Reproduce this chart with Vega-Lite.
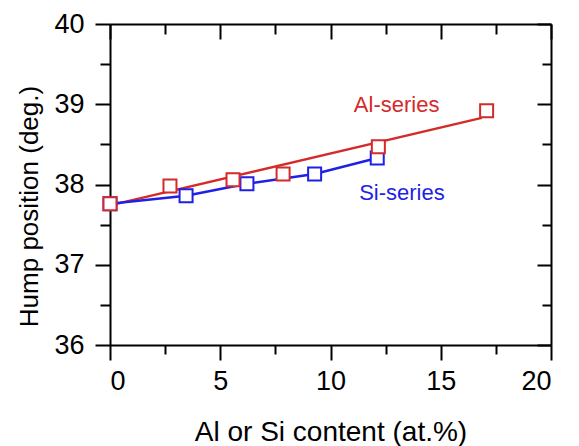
{
  "$schema": "https://vega.github.io/schema/vega-lite/v6.json",
  "width": 441,
  "height": 321,
  "autosize": {"type": "none"},
  "padding": {"left": 110, "top": 24, "right": 28, "bottom": 101},
  "background": "white",
  "config": {"view": {"stroke": null}},
  "datasets": {
    "pts": [
      {"series": "Si", "x": 0, "y": 37.76},
      {"series": "Si", "x": 3.45, "y": 37.86},
      {"series": "Si", "x": 6.21, "y": 38.01},
      {"series": "Si", "x": 9.28, "y": 38.13},
      {"series": "Si", "x": 12.12, "y": 38.33},
      {"series": "Al", "x": 0, "y": 37.76},
      {"series": "Al", "x": 2.72, "y": 37.98},
      {"series": "Al", "x": 5.58, "y": 38.06},
      {"series": "Al", "x": 7.85, "y": 38.13},
      {"series": "Al", "x": 12.17, "y": 38.47},
      {"series": "Al", "x": 17.08, "y": 38.92}
    ],
    "fit": [
      {"series": "Al", "x": 0, "y": 37.74},
      {"series": "Al", "x": 16.86, "y": 38.83}
    ],
    "labels": [
      {"label": "Al-series", "series": "Al", "x": 13.0, "y": 38.99},
      {"label": "Si-series", "series": "Si", "x": 13.24, "y": 37.89}
    ]
  },
  "resolve": {"axis": {"x": "independent", "y": "independent"}},
  "layer": [
    {
      "data": {"name": "fit"},
      "mark": {"type": "line", "color": "#d42a2a", "strokeWidth": 2.5},
      "encoding": {
        "x": {"field": "x", "type": "quantitative", "scale": {"domain": [0, 20], "nice": false},
          "axis": {"orient": "top", "values": [0, 2.5, 5, 7.5, 10, 12.5, 15, 17.5, 20], "labels": false, "title": null,
            "tickSize": {"condition": {"test": "datum.value % 5 === 0", "value": -15}, "value": -10},
            "domainColor": "black", "domainWidth": 2, "tickColor": "black", "tickWidth": 2, "grid": false}},
        "y": {"field": "y", "type": "quantitative", "scale": {"domain": [36, 40], "nice": false, "zero": false},
          "axis": {"orient": "right", "values": [36, 36.5, 37, 37.5, 38, 38.5, 39, 39.5, 40], "labels": false, "title": null,
            "tickSize": {"condition": {"test": "datum.value % 1 === 0", "value": -14}, "value": -9},
            "domainColor": "black", "domainWidth": 2, "tickColor": "black", "tickWidth": 2, "grid": false}}
      }
    },
    {
      "data": {"name": "pts"},
      "transform": [{"filter": "datum.series === 'Si'"}],
      "mark": {"type": "line", "color": "#1f1fe6", "strokeWidth": 2.5},
      "encoding": {
        "x": {"field": "x", "type": "quantitative", "axis": null},
        "y": {"field": "y", "type": "quantitative", "axis": null}
      }
    },
    {
      "data": {"name": "pts"},
      "mark": {"type": "point", "shape": "square", "filled": true, "fill": "white", "opacity": 1, "size": 169, "strokeWidth": 2},
      "encoding": {
        "x": {"field": "x", "type": "quantitative",
          "axis": {"orient": "bottom", "values": [0, 2.5, 5, 7.5, 10, 12.5, 15, 17.5, 20],
            "labelExpr": "datum.value % 5 === 0 ? format(datum.value, 'd') : ''",
            "tickSize": {"condition": {"test": "datum.value % 5 === 0", "value": 15}, "value": 9},
            "labelFont": "Liberation Sans", "labelFontSize": 27, "labelColor": "black", "labelPadding": 8,
            "title": "Al or Si content (at.%)", "titleFont": "Liberation Sans", "titleFontSize": 28,
            "titleFontWeight": "normal", "titleColor": "black", "titleBaseline": "alphabetic", "titleY": 95,
            "domainColor": "black", "domainWidth": 2, "tickColor": "black", "tickWidth": 2, "grid": false}},
        "y": {"field": "y", "type": "quantitative",
          "axis": {"orient": "left", "values": [36, 36.5, 37, 37.5, 38, 38.5, 39, 39.5, 40],
            "labelExpr": "datum.value % 1 === 0 ? format(datum.value, 'd') : ''",
            "tickSize": {"condition": {"test": "datum.value % 1 === 0", "value": 15}, "value": 10},
            "labelFont": "Liberation Sans", "labelFontSize": 27, "labelColor": "black", "labelPadding": 11,
            "title": "Hump position (deg.)", "titleFont": "Liberation Sans", "titleFontSize": 26,
            "titleFontWeight": "normal", "titleColor": "black", "titleBaseline": "alphabetic",
            "titleX": -73, "titleY": 182,
            "domainColor": "black", "domainWidth": 2, "tickColor": "black", "tickWidth": 2, "grid": false}},
        "stroke": {"field": "series", "type": "nominal", "scale": {"domain": ["Al", "Si"], "range": ["#d42a2a", "#1f1fe6"]}, "legend": null},
        "order": {"field": "series", "sort": "descending"}
      }
    },
    {
      "data": {"name": "labels"},
      "mark": {"type": "text", "font": "Liberation Sans", "fontSize": 22, "align": "center", "baseline": "middle"},
      "encoding": {
        "x": {"field": "x", "type": "quantitative", "axis": null},
        "y": {"field": "y", "type": "quantitative", "axis": null},
        "text": {"field": "label"},
        "color": {"field": "series", "type": "nominal", "scale": {"domain": ["Al", "Si"], "range": ["#d42a2a", "#1f1fe6"]}, "legend": null}
      }
    }
  ]
}
